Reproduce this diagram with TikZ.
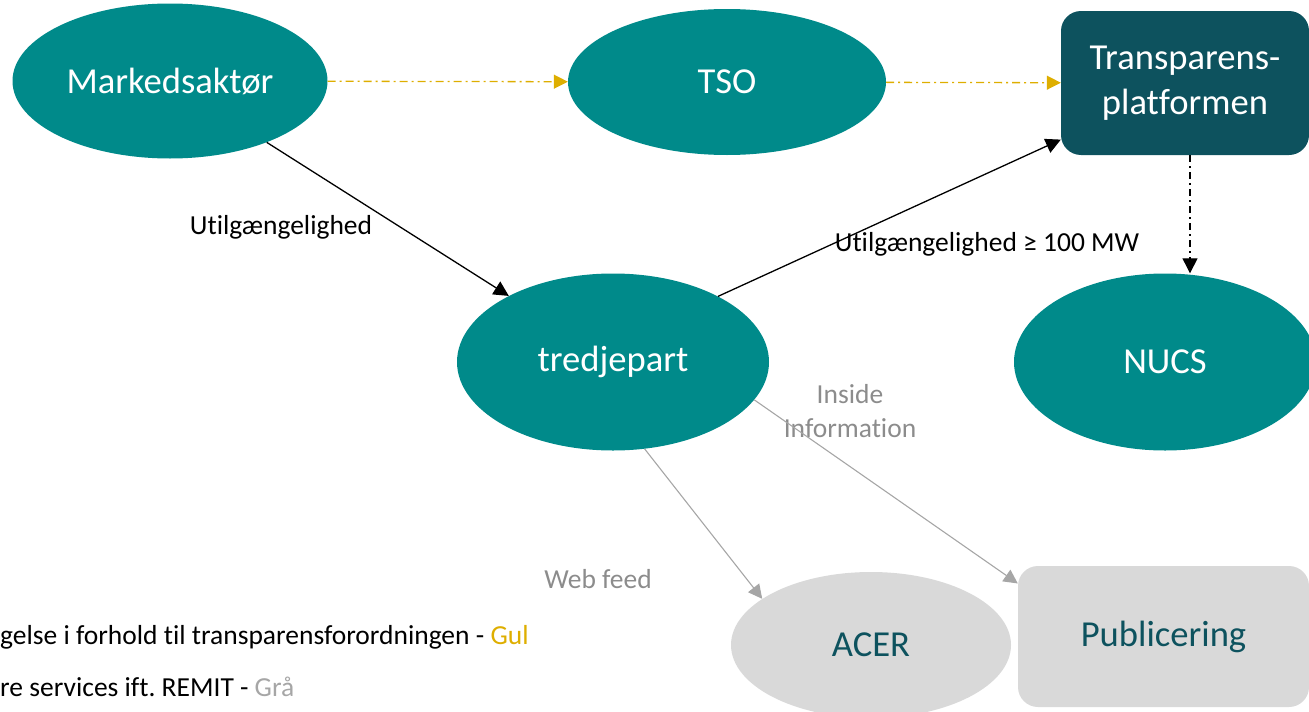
\documentclass[tikz,border=0pt]{standalone}
\usepackage{fontspec}
\setmainfont{Carlito}[Ligatures=NoCommon]
\usetikzlibrary{positioning, shapes.geometric, arrows.meta}
\frenchspacing

\definecolor{tealfill}{RGB}{0,138,138}
\definecolor{petrol}{RGB}{13,82,94}
\definecolor{lysgraa}{RGB}{217,217,217}
\definecolor{gulpil}{RGB}{222,174,0}
\definecolor{graapil}{RGB}{166,166,166}
\definecolor{graatekst}{RGB}{140,140,140}

\begin{document}
\begin{tikzpicture}[
    x=1pt, y=-1pt,
    bubble/.style={ellipse, fill=tealfill, text=white, inner sep=0pt, font=\fontsize{36.6}{42}\selectfont},
    greybubble/.style={ellipse, fill=lysgraa, text=petrol, inner sep=0pt, font=\fontsize{36.6}{42}\selectfont},
    platform/.style={rectangle, rounded corners=20pt, fill=petrol, text=white, align=center, inner sep=0pt, font=\fontsize{36.6}{45}\selectfont},
    greybox/.style={rectangle, rounded corners=20pt, fill=lysgraa, text=petrol, inner sep=0pt, font=\fontsize{36.6}{42}\selectfont},
    lbl/.style={inner sep=0pt, font=\fontsize{27.5}{32}\selectfont},
    greylbl/.style={lbl, text=graatekst, align=center, font=\fontsize{27.5}{34}\selectfont},
    yellowflow/.style={gulpil, line width=1.3pt, dash pattern=on 8pt off 4pt on 2pt off 4pt, -{Triangle[length=14pt, width=14pt]}},
    blackflow/.style={black, line width=1.3pt, -{Triangle[length=15pt, width=15pt]}},
    blackdash/.style={blackflow, dash pattern=on 7pt off 4pt on 2pt off 4pt},
    greyflow/.style={graapil, line width=1.1pt, -{Triangle[length=14pt, width=14pt]}}
]
    \useasboundingbox (0,0) rectangle (1309,712);
    \clip (0,0) rectangle (1309,712);

    % --- Top row
    \node[bubble, minimum width=315pt, minimum height=155pt] (mark) at (170, 81) {Markedsaktør};
    \node[bubble, minimum width=318pt, minimum height=146pt] (tso)  at (727, 82) {TSO};
    \node[platform, minimum width=248pt, minimum height=144pt] (trans) at (1185, 83) {Transparens-\\platformen};

    % --- Middle row
    \node[bubble, minimum width=312pt, minimum height=177pt] (tredje) at (613, 362) {tredjepart};
    \node[bubble, minimum width=302pt, minimum height=177pt] (nucs)   at (1165, 362) {NUCS};

    % --- Bottom row
    \node[greybubble, minimum width=280pt, minimum height=146pt] (acer) at (871, 645) {ACER};
    \node[greybox, minimum width=291pt, minimum height=141pt] (pub) at (1163.5, 636.5) {Publicering};

    % --- Labels
    \node[lbl] (lblmark) at (281, 227) {Utilgængelighed};
    \node[lbl] (lbltrans) at (987, 244) {Utilgængelighed ≥ 100 MW};
    \node[greylbl] (lblinside) at (850, 411) {Inside\\Information};
    \node[greylbl] (lblweb) at (598, 579) {Web feed};

    % --- Legend (cut at left edge)
    \node[lbl, anchor=west] (legA) at (0, 637) {gelse i forhold til transparensforordningen - \textcolor{gulpil}{Gul}};
    \node[lbl, anchor=west] (legB) at (0, 687) {re services ift. REMIT - \textcolor{graapil}{Grå}};

    \draw[yellowflow] (mark) -- (tso);
    \draw[yellowflow] (tso) -- (trans);

    \draw[blackflow] (mark) -- (tredje);
    \draw[blackflow] (tredje.32) -- (trans);
    \draw[blackdash] (trans.south) ++(5,0) coordinate (tdown) -- (tdown |- nucs.north);

    \draw[greyflow] (tredje.-70) -- (acer.157);
    \draw[greyflow] (tredje.-15) -- (pub.160);

\end{tikzpicture}
\end{document}
